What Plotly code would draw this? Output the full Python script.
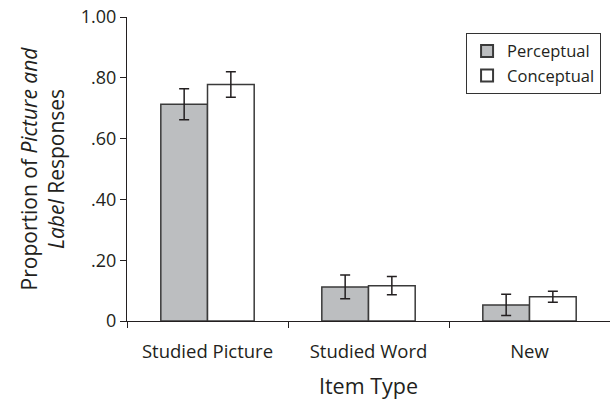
import plotly.graph_objects as go

categories = ["Studied Picture", "Studied Word", "New"]
perceptual = [0.713, 0.112, 0.053]
perceptual_err = [0.051, 0.039, 0.035]
conceptual = [0.778, 0.116, 0.080]
conceptual_err = [0.042, 0.030, 0.018]
y_tickvals = [0, 0.2, 0.4, 0.6, 0.8, 1.0]
y_ticktext = ["0", ".20", ".40", ".60", ".80", "1.00"]

FONT = "Open Sans, Noto Sans, sans-serif"
TXT = "#231f20"

fig = go.Figure()
fig.add_trace(go.Bar(
    name="Perceptual", x=categories, y=perceptual,
    marker=dict(color="#bcbec0", line=dict(color="#3a3a3a", width=1.5)),
    error_y=dict(type="data", array=perceptual_err, color="#231f20", thickness=1.5, width=5),
))
fig.add_trace(go.Bar(
    name="Conceptual", x=categories, y=conceptual,
    marker=dict(color="#ffffff", line=dict(color="#3a3a3a", width=1.5)),
    error_y=dict(type="data", array=conceptual_err, color="#231f20", thickness=1.5, width=5),
))

fig.update_layout(
    width=610, height=402,
    margin=dict(l=127, r=0, t=17, b=81),
    paper_bgcolor="white", plot_bgcolor="white",
    barmode="group", bargap=0.42, bargroupgap=0,
    font=dict(family=FONT, color=TXT, size=16),
    showlegend=True,
    legend=dict(
        x=0.702, y=0.948, xanchor="left", yanchor="top",
        bordercolor="#333333", borderwidth=1,
        font=dict(family=FONT, size=16.5, color=TXT),
        itemsizing="constant", tracegroupgap=0,
    ),
    xaxis=dict(
        type="category", range=[-0.5, 2.5],
        showline=True, linecolor="#231f20", linewidth=1,
        ticks="outside", tickson="boundaries", ticklen=6, tickcolor="#231f20",
        ticklabelstandoff=14,
        tickfont=dict(size=18.5, family=FONT, color=TXT),
        title=dict(text="Item Type", font=dict(size=21.5, family=FONT, color=TXT), standoff=16),
        showgrid=False, zeroline=False,
    ),
    yaxis=dict(
        range=[0, 1.0],
        tickvals=y_tickvals, ticktext=y_ticktext,
        showline=True, linecolor="#231f20", linewidth=1,
        ticks="outside", ticklen=6, tickcolor="#231f20",
        tickfont=dict(size=18, family=FONT, color=TXT),
        title=dict(text="Proportion of <i>Picture and</i><br><i>Label</i> Responses",
                   font=dict(size=21, family=FONT, color=TXT), standoff=10),
        showgrid=False, zeroline=False,
    ),
)

fig.write_html("out.html", config={"displayModeBar": False},
               post_script="document.body.style.margin='0';document.body.style.padding='0';")
